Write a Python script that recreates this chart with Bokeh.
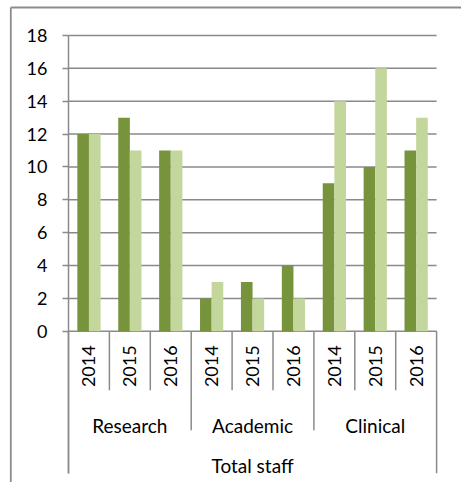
import numpy as np
from bokeh.plotting import figure
from bokeh.models import Range1d, FixedTicker, ColumnDataSource, LinearAxis
from bokeh.core.properties import value
from bokeh.embed import file_html
from bokeh.resources import INLINE

# ---- data ----
outer_label = "Total staff"
groups = ["Research", "Academic", "Clinical"]
years = ["2014", "2015", "2016"]
series_dark = [12, 13, 11, 2, 3, 4, 9, 10, 11]
series_light = [12, 11, 11, 3, 2, 2, 14, 16, 13]
y_ticks = [0, 2, 4, 6, 8, 10, 12, 14, 16, 18]

# ---- styling ----
DARK = "#77933C"
LIGHT = "#C3D69B"
GRID = "#8A8A8A"
BORDER = "#8C8C8C"
FONT = value("Lato")
FS = "18px"
FS_WORDS = "19px"

W, H = 461, 482
N = len(groups) * len(years)
Y_TOP = max(y_ticks)

# pixel layout of the plot area inside the canvas
PLOT_LEFT_PX, PLOT_TOP_PX = 68, 35      # where x=0 and y=Y_TOP sit
PX_PER_CAT = 40.9
PX_PER_UNIT = 16.43
CANVAS_FRAME = (8, W, 5, H)             # left, right, top, bottom of drawing frame


def xd(px):
    return (px - PLOT_LEFT_PX) / PX_PER_CAT


def yd(px):
    return Y_TOP - (px - PLOT_TOP_PX) / PX_PER_UNIT


def below_zero(px):
    return -px / PX_PER_UNIT


fl, fr, ft, fb = CANVAS_FRAME
p = figure(width=W, height=H, output_backend="svg", toolbar_location=None,
           x_range=Range1d(xd(fl), xd(fr)), y_range=Range1d(yd(fb), yd(ft)),
           x_axis_location=None, y_axis_location=None,
           min_border_left=fl, min_border_right=W - fr,
           min_border_top=ft, min_border_bottom=H - fb)
p.outline_line_color = None
p.background_fill_color = "white"
p.border_fill_color = "white"
p.xgrid.visible = False
p.ygrid.visible = False

# chart-box border (top and left edges)
p.segment(x0=[xd(10.3), xd(10.3)], y0=[yd(7), yd(7)],
          x1=[xd(10.3), xd(W + 5)], y1=[yd(H + 5), yd(7)],
          line_color=BORDER, line_width=1.8)

# horizontal gridlines across the plot area
p.segment(x0=[0] * len(y_ticks), x1=[N] * len(y_ticks), y0=y_ticks, y1=y_ticks,
          line_color=GRID, line_width=1.5)

# value axis, pinned at x = 0
yaxis = LinearAxis(fixed_location=0, ticker=FixedTicker(ticks=y_ticks),
                   bounds=(below_zero(142), Y_TOP))
yaxis.major_tick_out = 6
yaxis.major_tick_in = 0
yaxis.minor_tick_line_color = None
yaxis.axis_line_color = GRID
yaxis.axis_line_width = 1.5
yaxis.major_tick_line_color = GRID
yaxis.major_tick_line_width = 1.5
yaxis.major_label_standoff = 15
yaxis.major_label_text_font = "Lato"
yaxis.major_label_text_font_size = FS
yaxis.major_label_text_color = "black"
p.add_layout(yaxis, "left")

# bars
centers = np.arange(N) + 0.5
bw = 0.284
off = 0.142
src = ColumnDataSource(dict(xd=centers - off, xl=centers + off,
                            dark=series_dark, light=series_light))
p.vbar(x="xd", width=bw, top="dark", bottom=0, source=src,
       fill_color=DARK, line_color=None)
p.vbar(x="xl", width=bw, top="light", bottom=0, source=src,
       fill_color=LIGHT, line_color=None)

# category axis separators
sep_x, sep_y1 = [], []
for k in range(N + 1):
    sep_x.append(k)
    if k == 0 or k == N:
        sep_y1.append(below_zero(142))
    elif k % len(years) == 0:
        sep_y1.append(below_zero(99))
    else:
        sep_y1.append(below_zero(59))
p.segment(x0=sep_x, x1=sep_x, y0=[0] * len(sep_x), y1=sep_y1,
          line_color=GRID, line_width=1.5)

# year labels (vertical)
p.text(x=centers, y=[below_zero(35)] * N, text=years * len(groups),
       angle=np.pi / 2, text_align="center", text_baseline="middle",
       text_font=FONT, text_font_size=FS, text_color="black")

# group labels
gcenters = np.arange(len(groups)) * len(years) + len(years) / 2
p.text(x=gcenters, y=[below_zero(94)] * len(groups), text=groups,
       text_align="center", text_baseline="alphabetic",
       text_font=FONT, text_font_size=FS_WORDS, text_color="black")

# outer label
p.text(x=[N / 2], y=[below_zero(134)], text=[outer_label],
       text_align="center", text_baseline="alphabetic",
       text_font=FONT, text_font_size=FS_WORDS, text_color="black")

open("out.html", "w").write(file_html(p, INLINE))
